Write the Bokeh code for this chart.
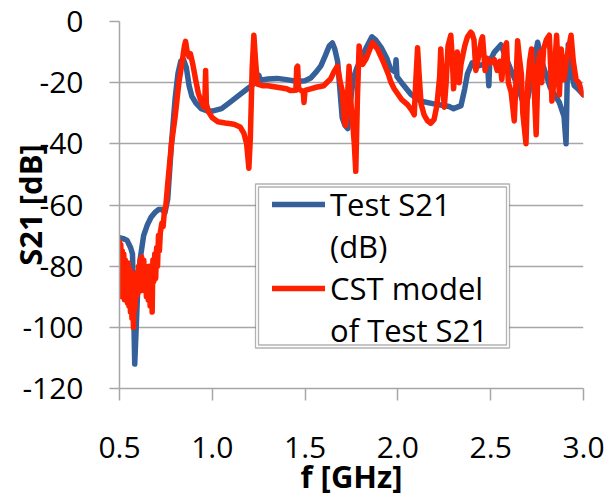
from bokeh.plotting import figure
from bokeh.models import FixedTicker, Legend, LegendItem, BoxAnnotation
from bokeh.embed import file_html
from bokeh.resources import INLINE

# ---------------- data ----------------
f_test = [0.50, 0.52, 0.54, 0.56, 0.57, 0.575, 0.582, 0.59, 0.60, 0.613, 0.63, 0.65, 0.67,
          0.69, 0.71, 0.73, 0.745, 0.76, 0.78, 0.80, 0.815, 0.83, 0.845, 0.86, 0.875, 0.89,
          0.91, 0.94, 0.97, 1.00, 1.05, 1.10, 1.15, 1.20, 1.24, 1.25, 1.26, 1.30, 1.35, 1.40,
          1.46, 1.50, 1.53, 1.56, 1.585, 1.61, 1.63, 1.647, 1.66, 1.675, 1.69, 1.70, 1.715,
          1.73, 1.745, 1.76, 1.78, 1.80, 1.83, 1.86, 1.88, 1.91, 1.94, 1.96, 1.985, 1.99,
          1.995, 2.02, 2.07, 2.12, 2.20, 2.276, 2.30, 2.34, 2.36, 2.375, 2.40, 2.43, 2.46,
          2.485, 2.49, 2.495, 2.52, 2.555, 2.59, 2.62, 2.645, 2.68, 2.70, 2.72, 2.753, 2.78,
          2.82, 2.87, 2.895, 2.906, 2.912, 2.918, 2.93, 2.95, 2.97, 3.00]
s21_test = [-70.7, -71, -71.5, -74, -76, -90, -112, -100, -85, -77, -70, -66.5, -64,
            -62.5, -61.5, -61.5, -62.5, -58, -40, -25, -17, -13, -12.5, -15, -21, -24.5,
            -26.5, -28.5, -29.2, -29.3, -28.5, -26.2, -23.8, -21.5, -19.5, -17.5, -19.2, -18.8, -18.6, -19,
            -19.6, -19.4, -18.5, -16.5, -14.5, -11, -8, -7, -9, -13, -24, -31.5, -34,
            -35, -26, -18.5, -15, -12.5, -8.5, -5, -6, -8.5, -12, -15.5, -16.5, -12.5,
            -18, -20, -23.8, -26, -27, -27.8, -28.5, -27.5, -22, -17, -13.5, -14.6, -14,
            -16, -21, -13, -10, -7.6, -13, -17.5, -21, -27.5, -25, -18, -6.8, -14,
            -21.5, -26.5, -31, -40, -20, -7.5, -16, -21, -22, -24]

f_cst = [0.500, 0.503, 0.507, 0.511, 0.515, 0.519, 0.523, 0.527, 0.531, 0.535, 0.539, 0.543,
         0.547, 0.551, 0.555, 0.559, 0.563, 0.567, 0.571, 0.575, 0.579, 0.583, 0.587, 0.591,
         0.595, 0.599, 0.603, 0.607, 0.611, 0.615, 0.619, 0.623, 0.627, 0.631, 0.635, 0.640,
         0.645, 0.650, 0.655, 0.660, 0.665, 0.670, 0.676, 0.680, 0.685, 0.690, 0.695, 0.700,
         0.705, 0.710, 0.715, 0.720, 0.728, 0.735, 0.742, 0.750, 0.760, 0.780, 0.800, 0.820,
         0.838, 0.850, 0.856, 0.865, 0.874, 0.882, 0.895, 0.910, 0.925, 0.937, 0.955, 0.960,
         0.964, 0.968, 0.980, 1.000, 1.030, 1.070, 1.117, 1.150, 1.170, 1.185, 1.197, 1.205,
         1.215, 1.224, 1.232, 1.243, 1.270, 1.300, 1.350, 1.400, 1.422, 1.450, 1.455, 1.460,
         1.465, 1.490, 1.494, 1.500, 1.530, 1.560, 1.600, 1.638, 1.655, 1.674, 1.690, 1.700,
         1.712, 1.720, 1.728, 1.737, 1.745, 1.755, 1.765, 1.773, 1.782, 1.791, 1.800, 1.810,
         1.830, 1.863, 1.890, 1.920, 1.950, 1.962, 1.980, 2.020, 2.052, 2.075, 2.088, 2.096,
         2.106, 2.115, 2.125, 2.141, 2.160, 2.177, 2.195, 2.210, 2.225, 2.231, 2.240, 2.250,
         2.260, 2.270, 2.285, 2.293, 2.300, 2.310, 2.320, 2.330, 2.340, 2.360, 2.375, 2.393,
         2.400, 2.410, 2.420, 2.430, 2.450, 2.456, 2.470, 2.480, 2.500, 2.520, 2.535, 2.550,
         2.560, 2.575, 2.585, 2.595, 2.610, 2.627, 2.636, 2.645, 2.655, 2.665, 2.673, 2.690,
         2.700, 2.710, 2.720, 2.735, 2.745, 2.755, 2.765, 2.775, 2.785, 2.800, 2.816, 2.830,
         2.840, 2.855, 2.870, 2.880, 2.895, 2.910, 2.933, 2.945, 2.960, 2.975, 2.990, 3.000]
s21_cst = [-72, -88, -73, -90, -75, -86, -76, -91, -78, -88, -80, -92,
           -79, -93, -81, -95, -82, -97, -84, -100, -86, -94, -83, -90,
           -82, -89, -80, -86, -78, -88, -77, -85, -79, -78, -88, -80,
           -90, -82, -91, -80, -93, -84, -95, -78, -85, -76, -84, -74,
           -80, -70, -75, -69, -66, -67, -62, -60, -53, -40, -31, -20,
           -13, -8, -6.5, -10, -11.5, -10.5, -14, -19, -23.5, -25.6, -28, -26,
           -16, -27, -29.5, -31.5, -32.8, -33.2, -33.6, -34.5, -36.5, -40, -48, -38,
           -15, -4.5, -12, -20.5, -21, -21, -21.5, -22, -22.6, -22.5, -15, -14.6,
           -22, -23, -26.5, -22.5, -22, -21.5, -21, -18.7, -16.5, -14.6, -20, -22.5,
           -33, -34, -25, -14.6, -25, -32, -40, -49, -25, -8, -12, -14,
           -12, -6.9, -9, -13, -17.5, -19.8, -22, -25.5, -27.2, -29, -30.5, -20,
           -8.6, -18, -27, -30.5, -32.5, -33.3, -32, -27.5, -18, -9, -20, -28,
           -20, -8, -4.5, -12, -22, -15, -10, -20, -14, -8, -5, -3.5,
           -4, -6, -16, -13, -6, -5, -16, -12, -13.5, -12.5, -16, -13,
           -19, -8.5, -7, -20, -23, -32.5, -20, -6.3, -12, -17, -30, -40,
           -20, -13, -9, -23, -37, -15, -10, -20, -9, -6, -4.5, -26,
           -20, -4.5, -24, -9, -19, -12, -4.5, -13, -19, -20, -23, -24]

x_ticks = [0.5, 1.0, 1.5, 2.0, 2.5, 3.0]
x_tick_labels = ["0.5", "1.0", "1.5", "2.0", "2.5", "3.0"]
y_ticks = [-120, -100, -80, -60, -40, -20, 0]
y_tick_labels = ["-120", "-100", "-80", "-60", "-40", "-20", "0"]

BLUE = "#35609A"
RED = "#FF2000"
GRID = "#A6A6A6"
FONT = "Open Sans"

p = figure(frame_width=464, frame_height=367,
           min_border_left=119, min_border_right=33, min_border_top=21, min_border_bottom=114,
           x_range=(0.5, 3.0), y_range=(-120, 0),
           output_backend="svg", toolbar_location=None)
p.outline_line_color = None
p.background_fill_color = "white"
p.border_fill_color = "white"

# grid
p.xgrid.grid_line_color = None
p.ygrid.grid_line_color = GRID
p.ygrid.grid_line_width = 1.5
p.ygrid.ticker = FixedTicker(ticks=y_ticks)

# x axis
xa = p.xaxis[0]
xa.ticker = FixedTicker(ticks=x_ticks)
xa.major_label_overrides = {t: l for t, l in zip(x_ticks, x_tick_labels)}
xa.axis_line_color = GRID
xa.axis_line_width = 1.5
xa.major_tick_line_color = GRID
xa.major_tick_line_width = 1.5
xa.major_tick_in = 0
xa.major_tick_out = 12
xa.minor_tick_line_color = None
xa.major_label_standoff = 36
xa.major_label_text_font = FONT
xa.major_label_text_font_size = "30px"
xa.major_label_text_color = "black"
xa.axis_label = "f [GHz]"
xa.axis_label_text_font = FONT
xa.axis_label_text_font_style = "bold"
xa.axis_label_text_font_size = "31px"
xa.axis_label_text_color = "black"
xa.axis_label_standoff = -6

# y axis
ya = p.yaxis[0]
ya.ticker = FixedTicker(ticks=y_ticks)
ya.major_label_overrides = {t: l for t, l in zip(y_ticks, y_tick_labels)}
ya.axis_line_color = GRID
ya.axis_line_width = 1.5
ya.major_tick_line_color = GRID
ya.major_tick_line_width = 1.5
ya.major_tick_in = 0
ya.major_tick_out = 10
ya.minor_tick_line_color = None
ya.major_label_standoff = 26
ya.major_label_text_font = FONT
ya.major_label_text_font_size = "30px"
ya.major_label_text_color = "black"
ya.axis_label = "S21 [dB]"
ya.axis_label_text_font = FONT
ya.axis_label_text_font_style = "bold"
ya.axis_label_text_font_size = "31px"
ya.axis_label_text_color = "black"
ya.axis_label_standoff = -32

r_test = p.line(f_test, s21_test, line_color=BLUE, line_width=5.5,
                line_join="round", line_cap="round")
r_cst = p.line(f_cst, s21_cst, line_color=RED, line_width=5.5,
               line_join="round", line_cap="round")
r_blank = p.line([], [], line_alpha=0)

# legend frame (double border)
outer = BoxAnnotation(left=136, right=390, bottom=40.5, top=204.5,
                      left_units="screen", right_units="screen",
                      bottom_units="screen", top_units="screen",
                      fill_color="white", fill_alpha=1.0,
                      line_color="black", line_width=1.3)
inner = BoxAnnotation(left=139, right=387, bottom=43.5, top=201.5,
                      left_units="screen", right_units="screen",
                      bottom_units="screen", top_units="screen",
                      fill_color="white", fill_alpha=1.0,
                      line_color="black", line_width=1.3)
p.add_layout(outer)
p.add_layout(inner)

legend = Legend(items=[LegendItem(label="Test S21", renderers=[r_test]),
                       LegendItem(label="(dB)", renderers=[r_blank]),
                       LegendItem(label="CST model", renderers=[r_cst]),
                       LegendItem(label="of Test S21", renderers=[r_blank])],
                location=(153, 37.5), orientation="vertical",
                padding=0, margin=0, spacing=0,
                glyph_width=53, glyph_height=20, label_height=36,
                label_standoff=5,
                label_text_font=FONT, label_text_font_size="31px",
                label_text_color="black",
                border_line_color=None, background_fill_alpha=0)
p.add_layout(legend, "center")

open("out.html", "w").write(file_html(p, INLINE))
